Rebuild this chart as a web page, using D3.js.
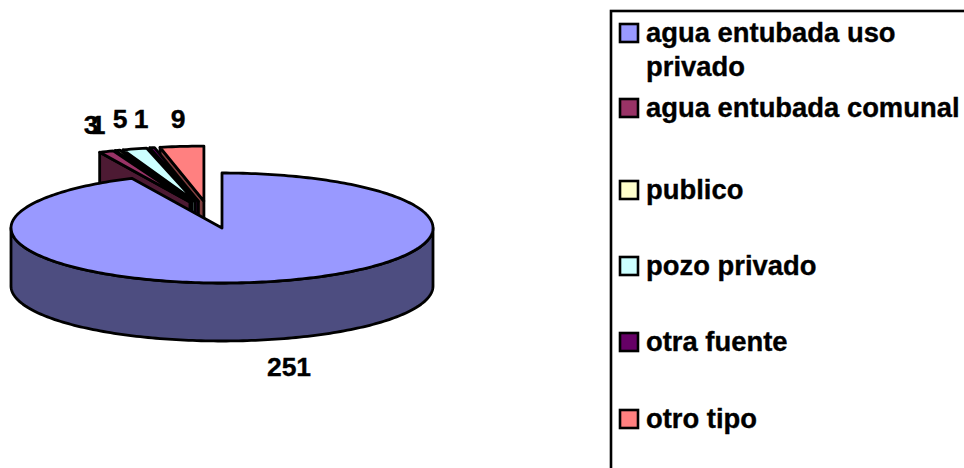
<!DOCTYPE html>
<html><head><meta charset="utf-8">
<script src="https://cdnjs.cloudflare.com/ajax/libs/d3/7.8.5/d3.min.js"></script>
<style>html,body{margin:0;padding:0;background:#fff}svg{display:block}text{font-family:"Liberation Sans",Arial,sans-serif;font-weight:bold;fill:#000;stroke:#000;stroke-width:0.35px}</style>
</head><body><svg id="c" width="964" height="468"></svg>
<script>
const categories=["agua entubada uso privado","agua entubada comunal","publico","pozo privado","otra fuente","otro tipo"];
const values=[251,3,1,5,1,9];
const topColors=["#9999ff","#993366","#ffffcc","#ccffff","#660066","#ff8080"];
const sideColors=["#4d4d80","#4d1a33","#808066","#668080","#330033","#804040"];
const legendLines=[["agua entubada uso","privado"],["agua entubada comunal"],["publico"],["pozo privado"],["otra fuente"],["otro tipo"]];

const W=964,H=468,cx=222,cy=228,rx=211,ry=55,depth=58;
const svg=d3.select("#c");
const sx=d3.scaleLinear().domain([-1,1]).range([cx-rx,cx+rx]);
const sy=d3.scaleLinear().domain([-1,1]).range([cy-ry,cy+ry]);
const arcs=d3.pie().sort(null).value(d=>d)(values);
// planar offset of an exploded slice, as fractions of the radii
const offset=a=>{
  if(a.index===0) return [0,0];
  const m=(a.startAngle+a.endAngle)/2;
  return [Math.sin(m)*0.227-0.062, -Math.cos(m)*0.22-0.27];
};
const pt=(t,o,dz=0)=>[sx(Math.sin(t)+o[0]),sy(-Math.cos(t)+o[1])+dz];
const sample=(a,b,dz,o)=>{const n=Math.max(2,Math.ceil(Math.abs(b-a)/0.02));return d3.range(n+1).map(i=>pt(a+(b-a)*i/n,o,dz));};
const line=d3.line();
const stroke={stroke:"#000","stroke-width":2.8,"stroke-linejoin":"round"};
const draw=(p,fill)=>{const s=svg.append("path").attr("d",line(p)+"Z").attr("fill",fill);Object.entries(stroke).forEach(([k,v])=>s.attr(k,v));};

// exploded slices, back to front: right-most first
arcs.slice(1).reverse().forEach(a=>{
  const o=offset(a),c=[sx(o[0]),sy(o[1])],s=pt(a.startAngle,o);
  draw([c,s,[s[0],s[1]+depth],[c[0],c[1]+depth]],sideColors[a.index]);
  draw([c,...sample(a.startAngle,a.endAngle,0,o)],topColors[a.index]);
});
// main slice
const big=arcs[0],o0=[0,0];
draw([...sample(Math.PI/2,Math.PI*1.5,0,o0),...sample(Math.PI*1.5,Math.PI/2,depth,o0)],sideColors[0]);
draw([[sx(0),sy(0)],...sample(big.startAngle,big.endAngle,0,o0)],topColors[0]);

// data labels
const labelX=[289,91,98,120,141,178],labelY=[376,134,134,128,128,128];
svg.append("g").attr("font-size",26.5).attr("text-anchor","middle").selectAll("text").data(values).join("text")
  .attr("x",(d,i)=>labelX[i]).attr("y",(d,i)=>labelY[i]).text(d=>d);

// legend
svg.append("rect").attr("x",611).attr("y",11).attr("width",400).attr("height",500).attr("fill","#fff").attr("stroke","#000").attr("stroke-width",2.6);
const swatchY=[33,108,190,266,342,419];
const leg=svg.append("g").selectAll("g").data(categories).join("g");
leg.append("rect").attr("x",620).attr("y",(d,i)=>swatchY[i]-9).attr("width",18).attr("height",18)
  .attr("fill",(d,i)=>topColors[i]).attr("stroke","#000").attr("stroke-width",2.6);
leg.each(function(d,i){
  d3.select(this).selectAll("text").data(legendLines[i]).join("text")
    .attr("x",646).attr("y",(l,j)=>swatchY[i]+9+j*34).attr("font-size",27.4).text(l=>l);
});
</script></body></html>
